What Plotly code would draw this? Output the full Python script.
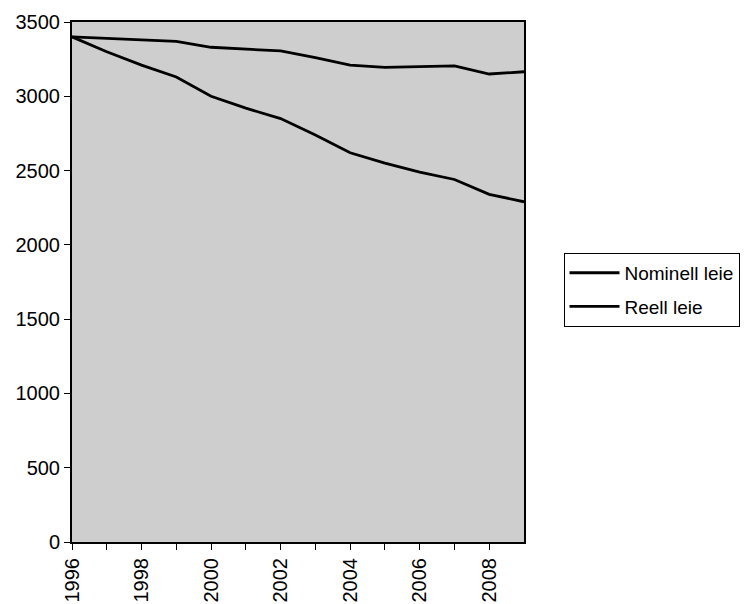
import plotly.graph_objects as go

years = list(range(1996, 2010))
nominell = [3400, 3390, 3380, 3370, 3330, 3315, 3305, 3260, 3210, 3195, 3200, 3205, 3150, 3165]
reell = [3400, 3300, 3210, 3130, 3000, 2920, 2850, 2740, 2620, 2550, 2490, 2440, 2340, 2290]
series_names = ["Nominell leie", "Reell leie"]
tick_years = list(range(1996, 2009))
tick_text = [str(y) if y % 2 == 0 else "" for y in tick_years]
y_ticks = [0, 500, 1000, 1500, 2000, 2500, 3000, 3500]

fig = go.Figure()
for i, (name, vals) in enumerate(zip(series_names, [nominell, reell])):
    fig.add_trace(go.Scatter(x=years, y=vals, mode="lines", name=name,
                             legendgroup=f"g{i}",
                             line=dict(color="black", width=2.8)))

font = dict(family="Liberation Sans, Arial, sans-serif", size=20, color="black")
fig.update_layout(
    width=750, height=604,
    margin=dict(l=72, r=225, t=22, b=62),
    paper_bgcolor="white",
    plot_bgcolor="#cecece",
    font=font,
    showlegend=True,
    legend=dict(x=1.085, y=0.556, xanchor="left", yanchor="top",
                bgcolor="white", bordercolor="black", borderwidth=1,
                font=dict(size=19), tracegroupgap=6, traceorder="grouped",
                itemwidth=50),
    xaxis=dict(range=[1996, 2009], tickmode="array", tickvals=tick_years,
               ticktext=tick_text, tickangle=-90, showgrid=False, zeroline=False,
               showline=True, linecolor="black", linewidth=2, mirror=True,
               ticks="outside", ticklen=6, tickcolor="black", automargin=False),
    yaxis=dict(range=[0, 3500], tickmode="array", tickvals=y_ticks,
               showgrid=False, zeroline=False,
               showline=True, linecolor="black", linewidth=2, mirror=True,
               ticks="outside", ticklen=6, tickcolor="black", automargin=False),
)

fig.write_html("out.html")
